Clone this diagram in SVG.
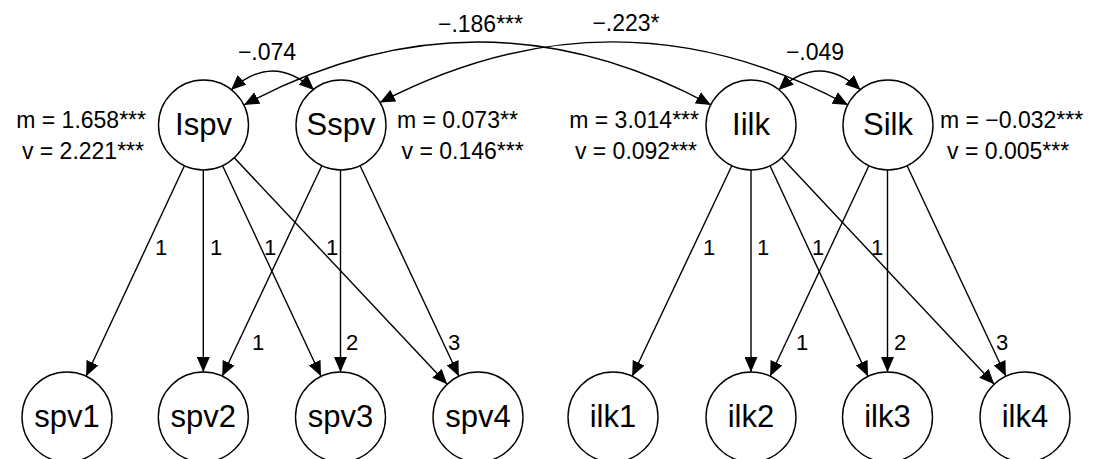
<svg xmlns="http://www.w3.org/2000/svg" width="1093" height="459" viewBox="0 0 1093 459">
<style>
.node circle{fill:#fff;stroke:#000;stroke-width:1.4}
.node text{font-family:"Liberation Sans",Arial,sans-serif;font-size:31px;text-anchor:middle;fill:#000}
.lbl{font-family:"Liberation Sans",Arial,sans-serif;font-size:23px;fill:#000}
.ld{font-family:"Liberation Sans",Arial,sans-serif;font-size:22px;fill:#000;text-anchor:middle}
.mid{text-anchor:middle}
.end{text-anchor:end}
.edge{fill:none;stroke:#000;stroke-width:1.4;marker-end:url(#arr)}
.cov{fill:none;stroke:#000;stroke-width:1.4;marker-end:url(#arr);marker-start:url(#arr)}
</style>
<defs>
<marker id="arr" viewBox="0 0 15 13" refX="15" refY="6.5" markerWidth="15" markerHeight="13" markerUnits="userSpaceOnUse" orient="auto-start-reverse">
<path d="M0,0 L15,6.5 L0,13 z" fill="#000"/>
</marker>
</defs>
<rect width="1093" height="459" fill="#fff"/>
<g id="connectors">
<line class="edge" x1="184.4" y1="165.8" x2="86.1" y2="376.2"/>
<line class="edge" x1="203.3" y1="170" x2="203.3" y2="372"/>
<line class="edge" x1="222.6" y1="165.8" x2="321" y2="376.2"/>
<line class="edge" x1="234.3" y1="157.8" x2="447.2" y2="384.2"/>
<line class="edge" x1="321.8" y1="165.7" x2="222.2" y2="376.3"/>
<line class="edge" x1="340.5" y1="170" x2="340.5" y2="372"/>
<line class="edge" x1="360.1" y1="165.7" x2="458.9" y2="376.3"/>
<line class="edge" x1="731.8" y1="165.7" x2="632.2" y2="376.3"/>
<line class="edge" x1="751" y1="170" x2="751" y2="372"/>
<line class="edge" x1="770" y1="165.8" x2="868" y2="376.2"/>
<line class="edge" x1="781.8" y1="157.8" x2="994.2" y2="384.2"/>
<line class="edge" x1="868.9" y1="165.7" x2="770.1" y2="376.3"/>
<line class="edge" x1="887.5" y1="170" x2="887.5" y2="372"/>
<line class="edge" x1="907.1" y1="165.7" x2="1005.9" y2="376.3"/>
<path class="cov" d="M231,90 Q272.5,52 314,90"/>
<path class="cov" d="M778.5,90 Q819.5,52 860.5,90"/>
<path class="cov" d="M244,105 Q478,-21 711,105"/>
<path class="cov" d="M380,102.5 Q616,-20 848,105"/>
</g>
<g id="edge-labels">
<text class="lbl mid" x="267" y="60">−.074</text>
<text class="lbl mid" x="480.5" y="32">−.186***</text>
<text class="lbl mid" x="626" y="31">−.223*</text>
<text class="lbl mid" x="815" y="60">−.049</text>
<text class="ld" x="161" y="255">1</text>
<text class="ld" x="216" y="255">1</text>
<text class="ld" x="270" y="255">1</text>
<text class="ld" x="332" y="255">1</text>
<text class="ld" x="258" y="350">1</text>
<text class="ld" x="352" y="350">2</text>
<text class="ld" x="454" y="350">3</text>
<text class="ld" x="709" y="255">1</text>
<text class="ld" x="763" y="255">1</text>
<text class="ld" x="818" y="255">1</text>
<text class="ld" x="877" y="255">1</text>
<text class="ld" x="802" y="350">1</text>
<text class="ld" x="900" y="350">2</text>
<text class="ld" x="1002" y="350">3</text>
</g>
<g id="params">
<text class="lbl end" x="146" y="128">m = 1.658***</text>
<text class="lbl end" x="144" y="158.5">v = 2.221***</text>
<text class="lbl" x="397" y="128">m = 0.073**</text>
<text class="lbl" x="401.5" y="158.5">v = 0.146***</text>
<text class="lbl end" x="699" y="128">m = 3.014***</text>
<text class="lbl end" x="697" y="158.5">v = 0.092***</text>
<text class="lbl" x="940" y="128">m = −0.032***</text>
<text class="lbl" x="947" y="158.5">v = 0.005***</text>
</g>
<g id="Ispv" class="node"><circle cx="203.5" cy="125" r="45"/><text x="203.5" y="135">Ispv</text></g>
<g id="Sspv" class="node"><circle cx="341" cy="125" r="45"/><text x="341" y="135">Sspv</text></g>
<g id="Iilk" class="node"><circle cx="751" cy="125" r="45"/><text x="751" y="135">Iilk</text></g>
<g id="Silk" class="node"><circle cx="888" cy="125" r="45"/><text x="888" y="135">Silk</text></g>
<g id="spv1" class="node"><circle cx="67" cy="417" r="45"/><text x="67" y="427">spv1</text></g>
<g id="spv2" class="node"><circle cx="203.3" cy="417" r="45"/><text x="203.3" y="427">spv2</text></g>
<g id="spv3" class="node"><circle cx="340.5" cy="417" r="45"/><text x="340.5" y="427">spv3</text></g>
<g id="spv4" class="node"><circle cx="478" cy="417" r="45"/><text x="478" y="427">spv4</text></g>
<g id="ilk1" class="node"><circle cx="613" cy="417" r="45"/><text x="613" y="427">ilk1</text></g>
<g id="ilk2" class="node"><circle cx="751" cy="417" r="45"/><text x="751" y="427">ilk2</text></g>
<g id="ilk3" class="node"><circle cx="887.5" cy="417" r="45"/><text x="887.5" y="427">ilk3</text></g>
<g id="ilk4" class="node"><circle cx="1025" cy="417" r="45"/><text x="1025" y="427">ilk4</text></g>
</svg>
